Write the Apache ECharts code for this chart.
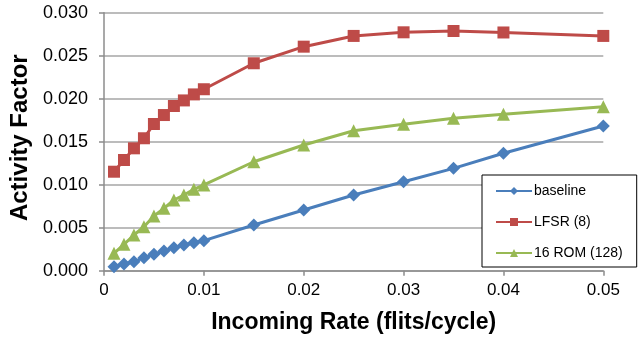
<!DOCTYPE html>
<html>
<head>
<meta charset="utf-8">
<script src="https://cdn.jsdelivr.net/npm/echarts@6/dist/echarts.min.js"></script>
<style>html,body{margin:0;padding:0;background:#fff;}#c{width:639px;height:339px;}</style>
</head>
<body>
<div id="c"></div>
<script>
var rates = [0.001,0.002,0.003,0.004,0.005,0.006,0.007,0.008,0.009,0.010,0.015,0.020,0.025,0.030,0.035,0.040,0.050];
var baseline = [0.00047,0.00078,0.00105,0.00151,0.0019,0.00229,0.00267,0.00299,0.00326,0.00349,0.00531,0.00706,0.0088,0.01035,0.0119,0.01365,0.01683];
var lfsr = [0.01151,0.01287,0.01423,0.0154,0.01706,0.0181,0.01915,0.0198,0.0205,0.0211,0.02412,0.02605,0.0273,0.02772,0.02787,0.0277,0.0273];
var rom = [0.00202,0.00307,0.00415,0.00512,0.00636,0.00725,0.00822,0.0088,0.00946,0.00997,0.01267,0.01462,0.01628,0.01702,0.01772,0.01819,0.01907];
var seriesNames = ['baseline','LFSR (8)','16 ROM (128)'];
var xTicks = [0,0.01,0.02,0.03,0.04,0.05];
var yTicks = [0,0.005,0.010,0.015,0.020,0.025,0.030];

function pairs(ys){ return rates.map(function(x,i){return [x,ys[i]];}); }
var FONT = 'Liberation Sans';
var chart = echarts.init(document.getElementById('c'), null, {renderer:'canvas'});
chart.setOption({
  animation:false,
  textStyle:{fontFamily:FONT},
  grid:{left:101.5,right:35.7,top:12.7,bottom:68.3,containLabel:false},
  xAxis:{
    type:'value',min:xTicks[0],max:xTicks[xTicks.length-1],interval:0.01,
    name:'Incoming Rate (flits/cycle)',nameLocation:'middle',nameGap:40,
    nameTextStyle:{fontFamily:FONT,fontSize:23,fontWeight:'bold',color:'#000'},
    axisLine:{show:true,onZero:false,lineStyle:{color:'#8c8c8c',width:1.5}},
    axisTick:{show:true,length:5,lineStyle:{color:'#8c8c8c',width:1.5}},
    axisLabel:{fontFamily:FONT,fontSize:17,color:'#000',margin:11,
      formatter:function(v){return v===0?'0':v.toFixed(2);}},
    splitLine:{show:false}
  },
  yAxis:{
    type:'value',min:yTicks[0],max:yTicks[yTicks.length-1],interval:0.005,
    name:'Activity Factor',nameLocation:'middle',nameGap:72,
    nameTextStyle:{fontFamily:FONT,fontSize:24,fontWeight:'bold',color:'#000',padding:[0,0,0,8]},
    axisLine:{show:true,lineStyle:{color:'#8c8c8c',width:1.5}},
    axisTick:{show:true,length:5,lineStyle:{color:'#8c8c8c',width:1.5}},
    axisLabel:{fontFamily:FONT,fontSize:18,color:'#000',margin:16,
      formatter:function(v){return v.toFixed(3);}},
    splitLine:{show:true,lineStyle:{color:'#a6a6a6',width:1.5}}
  },
  legend:{
    orient:'vertical',left:482,top:175,
    data:seriesNames,
    backgroundColor:'#fff',borderColor:'#000',borderWidth:1,
    padding:[9,14,7,13],itemGap:17,itemWidth:36,itemHeight:10,
    textStyle:{fontFamily:FONT,fontSize:14,color:'#000',padding:[0,0,0,-3]}
  },
  series:[
    {name:seriesNames[0],type:'line',data:pairs(baseline),symbol:'diamond',symbolSize:13,
      itemStyle:{color:'#4a7ebb'},lineStyle:{color:'#4a7ebb',width:3}},
    {name:seriesNames[1],type:'line',data:pairs(lfsr),symbol:'rect',symbolSize:12,
      itemStyle:{color:'#be4b48'},lineStyle:{color:'#be4b48',width:3}},
    {name:seriesNames[2],type:'line',data:pairs(rom),symbol:'triangle',symbolSize:13,
      itemStyle:{color:'#98b954'},lineStyle:{color:'#98b954',width:3}}
  ]
});
</script>
</body>
</html>
